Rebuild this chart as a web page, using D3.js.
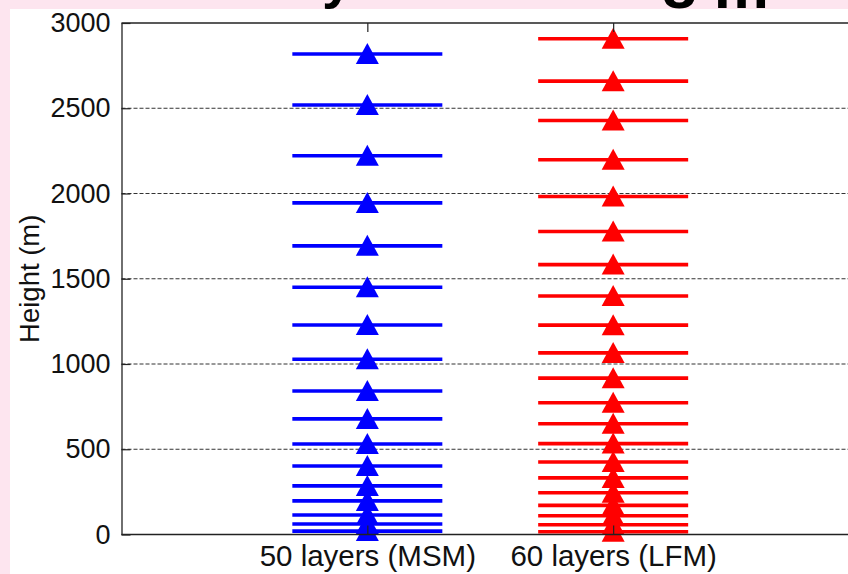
<!DOCTYPE html>
<html>
<head>
<meta charset="utf-8">
<script src="https://cdn.jsdelivr.net/npm/d3@7"></script>
<style>
  html, body { margin: 0; padding: 0; background: #fde5ef; }
  svg { display: block; }
  text { font-family: "Liberation Sans", Arial, Helvetica, sans-serif; }
</style>
</head>
<body>
<svg id="chart" width="848" height="574"></svg>
<script>
// ---- data ----
const categories = ["50 layers (MSM)", "60 layers (LFM)"];
const msmHeights = [20, 62, 114, 197, 285, 402, 531, 678, 842, 1028, 1229, 1450, 1693, 1945, 2221, 2519, 2818];
const lfmHeights = [16, 57, 110, 171, 245, 332, 425, 533, 650, 773, 917, 1065, 1228, 1399, 1583, 1777, 1982, 2198, 2428, 2659, 2908];
const seriesColors = ["#0000ff", "#ff0000"];
const yTicks = [0, 500, 1000, 1500, 2000, 2500, 3000];
const gridTicks = [500, 1000, 1500, 2000, 2500];
const titleFragments = ["y", "8 m"];

// ---- layout ----
const W = 848, H = 574;
const plot = { left: 121.5, top: 23, bottom: 534.5, right: 859 };
const svg = d3.select("#chart");

// pink page background + white panel
svg.append("rect").attr("x", 0).attr("y", 0).attr("width", W).attr("height", H).attr("fill", "#fde5ef");
svg.append("rect").attr("x", 10).attr("y", 9).attr("width", W - 10).attr("height", H - 9).attr("fill", "#ffffff");

const x = d3.scalePoint().domain(categories).range([plot.left, plot.right]).padding(1);
const y = d3.scaleLinear().domain([0, 3000]).range([plot.bottom, plot.top]);

// grid
svg.append("g").selectAll("line").data(gridTicks).join("line")
  .attr("x1", plot.left).attr("x2", W)
  .attr("y1", d => y(d)).attr("y2", d => y(d))
  .attr("stroke", "#333").attr("stroke-width", 1).attr("stroke-dasharray", "4,2");

// series
const series = [msmHeights, lfmHeights];
const halfW = 75;
const tri = "M0,-11L11.5,10L-11.5,10Z";
series.forEach((vals, i) => {
  const cx = x(categories[i]);
  const g = svg.append("g");
  g.selectAll("line").data(vals).join("line")
    .attr("x1", cx - halfW).attr("x2", cx + halfW)
    .attr("y1", d => y(d)).attr("y2", d => y(d))
    .attr("stroke", seriesColors[i]).attr("stroke-width", 3.6);
  g.selectAll("path").data(vals).join("path")
    .attr("d", tri)
    .attr("transform", d => `translate(${cx},${y(d)})`)
    .attr("fill", seriesColors[i]);
});

// axes
const axisColor = "#222";
const yAxis = d3.axisLeft(y).tickValues(yTicks).tickFormat(d3.format("d"))
  .tickSizeInner(-9).tickSizeOuter(0).tickPadding(11);
const gy = svg.append("g").attr("transform", `translate(${plot.left},0)`).call(yAxis);
gy.select(".domain").attr("stroke", axisColor).attr("stroke-width", 1.3);
gy.selectAll(".tick line").attr("stroke", axisColor).attr("stroke-width", 1.2);
gy.selectAll(".tick text").attr("font-size", 27).attr("fill", "#111")
  .attr("font-family", "Liberation Sans, Arial, sans-serif");

const xBottom = d3.axisBottom(x).tickSizeInner(-9).tickSizeOuter(0).tickPadding(11);
const gxb = svg.append("g").attr("transform", `translate(0,${plot.bottom})`).call(xBottom);
gxb.select(".domain").attr("stroke", axisColor).attr("stroke-width", 1.3).attr("d", `M${plot.left},0H${W}`);
gxb.selectAll(".tick line").attr("stroke", axisColor).attr("stroke-width", 1.2);
gxb.selectAll(".tick text").attr("font-size", 29.5).attr("fill", "#111")
  .attr("font-family", "Liberation Sans, Arial, sans-serif");

const xTop = d3.axisTop(x).tickSizeInner(-9).tickSizeOuter(0).tickFormat("");
const gxt = svg.append("g").attr("transform", `translate(0,${plot.top})`).call(xTop);
gxt.select(".domain").attr("stroke", axisColor).attr("stroke-width", 1.3).attr("d", `M${plot.left},0H${W}`);
gxt.selectAll(".tick line").attr("stroke", axisColor).attr("stroke-width", 1.2);

// y-axis title
svg.append("text")
  .attr("transform", `translate(39,${(plot.top + plot.bottom) / 2}) rotate(-90)`)
  .attr("text-anchor", "middle")
  .attr("font-size", 27.5).attr("fill", "#111")
  .text("Height (m)");

// clipped title fragments at the very top
svg.append("text").attr("x", 322).attr("y", -3).attr("font-size", 56).attr("font-weight", "bold")
  .attr("fill", "#000").text(titleFragments[0]);
svg.append("text").attr("x", 662).attr("y", 8).attr("font-size", 62).attr("font-weight", "bold")
  .attr("fill", "#000").text(titleFragments[1]);
</script>
</body>
</html>
